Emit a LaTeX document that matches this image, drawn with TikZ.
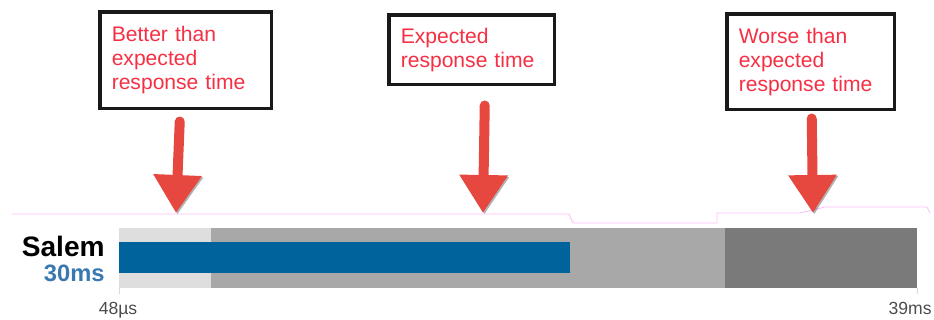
\documentclass[tikz,border=0pt]{standalone}
\usepackage{fontspec}
\setmainfont{Liberation Sans}
\usetikzlibrary{arrows.meta,shadows}

\definecolor{notered}{RGB}{245,48,68}
\definecolor{arrowred}{RGB}{230,72,64}
\definecolor{barlight}{RGB}{222,222,222}
\definecolor{barmid}{RGB}{168,168,168}
\definecolor{bardark}{RGB}{122,122,122}
\definecolor{barblue}{RGB}{0,99,155}
\definecolor{labelblue}{RGB}{58,120,176}
\definecolor{halo}{RGB}{250,190,250}

\tikzset{
  callout/.style={draw=black!90, line width=2pt, fill=white, anchor=north west,
    align=left, inner xsep=0.24cm, text=notered,
    font=\fontsize{12pt}{13.6pt}\selectfont,
    drop shadow={opacity=0.45, shadow xshift=0.9pt, shadow yshift=-0.9pt}},
  bigarrow/.style={draw=arrowred, line width=0.2cm, line cap=round,
    -{Triangle[width=0.92cm, length=0.76cm]},
    preaction={draw=black, opacity=0.3, transform canvas={shift={(0.8pt,-0.8pt)}}}},
}

\begin{document}
\begin{tikzpicture}[x=0.02cm, y=-0.02cm]
            \useasboundingbox (0,0) rectangle (934,320);

            % the three notes
            \node[callout, minimum width=3.44cm, minimum height=1.94cm, text width=2.96cm]
                (better) at (98,10) {Better than\\expected\\response time};
            \node[callout, minimum width=3.32cm, minimum height=1.40cm, text width=2.84cm]
                (expected) at (387,13) {Expected\\response time};
            \node[callout, minimum width=3.36cm, minimum height=1.92cm, text width=2.88cm]
                (worse) at (725,12) {Worse than\\expected\\response time};

            % where the arrows land
            \coordinate (betterTip) at (176,213);
            \coordinate (expectedTip) at (483,213);
            \coordinate (worseTip) at (813,213);

            \draw[halo, line width=0.5pt] (12,214) -- (569,214) -- (573,223) -- (717,223)
                -- (717,213) -- (800,213) -- (825,207) -- (927,207) -- (930,213);

            \draw[bigarrow] ([shift={(-6,11)}]better.south) -- (betterTip);
            \draw[bigarrow] ([shift={(13,19)}]expected.south) -- (expectedTip);
            \draw[bigarrow] ([shift={(1,7)}]worse.south) -- (worseTip);

            % the bar
            \fill[barlight] (119,228) rectangle (211,288);
            \fill[barmid] (211,228) rectangle (725,288);
            \fill[bardark] (725,228) rectangle (917,288);
            \fill[barblue] (119,242) rectangle (570,273);
            \draw[black!15] (119,288) -- (119,294);
            \draw[black!15] (917,288) -- (917,294);

            \node[anchor=base east, inner sep=0, font=\fontsize{16pt}{18pt}\selectfont\bfseries]
                (site) at (105,257) {Salem};
            \node[anchor=base east, inner sep=0, text=labelblue,
                font=\fontsize{13.5pt}{15pt}\selectfont\bfseries]
                (time) at (105,282) {30ms};
            \node[anchor=base, inner sep=0, text=black!70, font=\fontsize{10pt}{12pt}\selectfont]
                (low) at (118,315) {48µs};
            \node[anchor=base east, inner sep=0, text=black!70, font=\fontsize{10pt}{12pt}\selectfont]
                (high) at (932,315) {39ms};
\end{tikzpicture}
\end{document}
